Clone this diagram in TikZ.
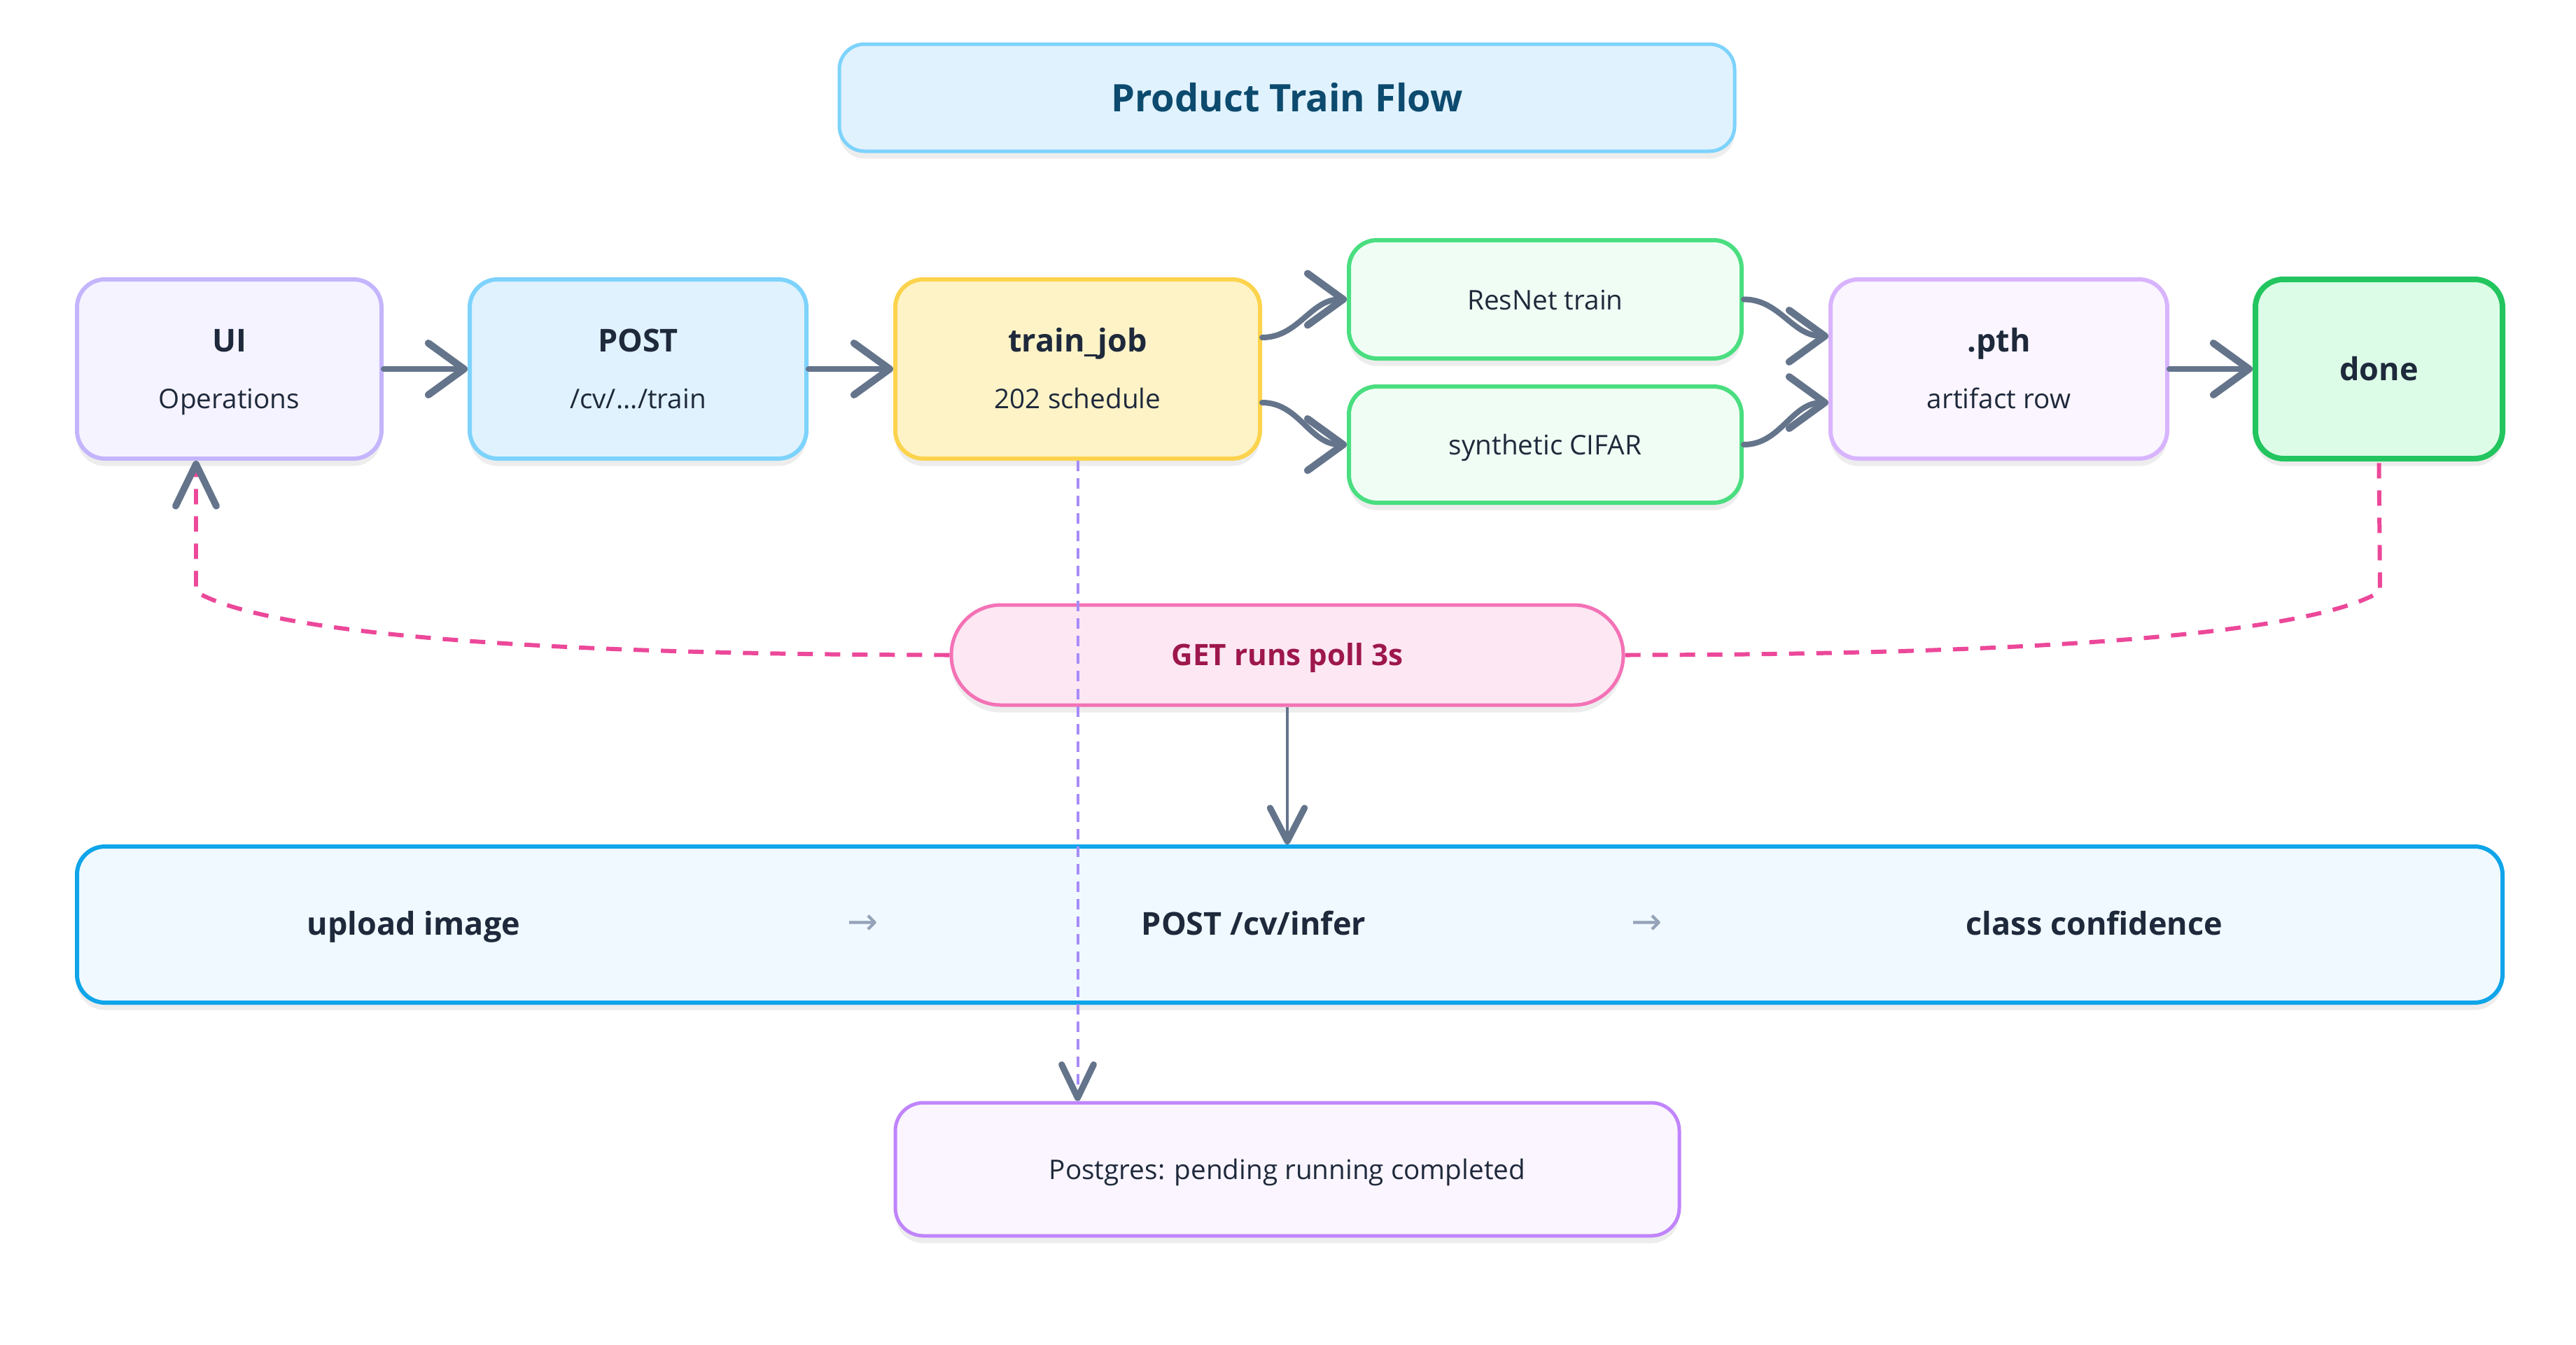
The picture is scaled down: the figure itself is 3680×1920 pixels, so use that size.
\documentclass[tikz,border=0pt]{standalone}
\usepackage{fontspec}
\setmainfont{Open Sans}
\newfontfamily\symfont{DejaVu Sans}
\usetikzlibrary{arrows.meta,shadows,calc}
\newdimen\pxu \pxu=0.01cm
\definecolor{ink}{HTML}{1E293B}
\definecolor{slate}{HTML}{64748B}
\definecolor{lslate}{HTML}{94A3B8}
\definecolor{skyF}{HTML}{E0F2FE}
\definecolor{skyB}{HTML}{7DD3FC}
\definecolor{skyT}{HTML}{0C4A6E}
\definecolor{violF}{HTML}{F5F3FF}
\definecolor{violB}{HTML}{C4B5FD}
\definecolor{ambF}{HTML}{FEF3C7}
\definecolor{ambB}{HTML}{FCD34D}
\definecolor{grnF}{HTML}{F0FDF4}
\definecolor{grnB}{HTML}{4ADE80}
\definecolor{purF}{HTML}{FAF5FF}
\definecolor{purB}{HTML}{D8B4FE}
\definecolor{doneF}{HTML}{DCFCE7}
\definecolor{doneB}{HTML}{22C55E}
\definecolor{pinkF}{HTML}{FCE7F3}
\definecolor{pinkB}{HTML}{F472B6}
\definecolor{pinkT}{HTML}{9D174D}
\definecolor{pinkL}{HTML}{EC4899}
\definecolor{bandF}{HTML}{F0F9FF}
\definecolor{bandB}{HTML}{0EA5E9}
\definecolor{pgB}{HTML}{C084FC}
\definecolor{lavL}{HTML}{A78BFA}
\begin{document}
\begin{tikzpicture}[x=0.01cm,y=-0.01cm,
  box/.style={draw, rounded corners=40\pxu, line width=6\pxu, inner sep=0pt,
    drop shadow={shadow xshift=0pt, shadow yshift=-3pt, opacity=0.07, fill=black}},
  hd/.style={inner sep=0pt, text height=11pt, text depth=1.86pt,
    font=\fontsize{12.8pt}{14pt}\selectfont\bfseries, text=ink},
  sub/.style={inner sep=0pt, text height=9.5pt, text depth=1.65pt,
    font=\fontsize{11pt}{13pt}\selectfont, text=ink},
  flow/.style={draw=slate, line width=2.28pt, line cap=round,
    -{Straight Barb[length=14.5pt, width=21pt, round, line width=2.9pt]}},
  thinarr/.style={draw=slate, line width=1.14pt,
    -{Straight Barb[length=13.5pt, width=14pt, round, line width=2.6pt]}},
  poll/.style={draw=pinkL, line width=1.7pt, dash pattern=on 6.26pt off 4.84pt}
]
\fill[white] (0,0) rectangle (3680,1920);
\useasboundingbox (0,0) rectangle (3680,1920);

% title
\node[box, draw=skyB, fill=skyF, line width=5\pxu, rounded corners=36\pxu,
  minimum width=1279\pxu, minimum height=153\pxu] (title) at (1838.5,139.5) {};
\node[inner sep=0pt, text height=13pt, text depth=2pt,
  font=\fontsize{15.4pt}{17pt}\selectfont\bfseries, text=skyT] (titleT) at ($(title.center)+(0,1)$) {Product Train Flow};

% main row
\node[box, draw=violB, fill=violF, minimum width=435\pxu, minimum height=256\pxu] (ui) at (327.5,527) {};
\node[hd] (uiT) at ($(ui.center)+(0,-41)$) {UI};
\node[sub] (uiS) at ($(ui.center)+(0,43)$) {Operations};

\node[box, draw=skyB, fill=skyF, minimum width=481\pxu, minimum height=256\pxu] (post) at (911.5,527) {};
\node[hd] (postT) at ($(post.center)+(0,-41)$) {POST};
\node[sub] (postS) at ($(post.center)+(0,43)$) {/cv/.../train};

\node[box, draw=ambB, fill=ambF, minimum width=521\pxu, minimum height=256\pxu] (tj) at (1539.5,527) {};
\node[hd] (tjT) at ($(tj.center)+(0,-41)$) {train\_job};
\node[sub] (tjS) at ($(tj.center)+(0,43)$) {202 schedule};

\node[box, draw=grnB, fill=grnF, minimum width=561\pxu, minimum height=169\pxu] (rn) at (2207.5,427.5) {};
\node[sub] (rnT) at ($(rn.center)+(0,1)$) {ResNet train};

\node[box, draw=grnB, fill=grnF, minimum width=561\pxu, minimum height=166\pxu] (sc) at (2207.5,635) {};
\node[sub] (scT) at ($(sc.center)+(0,1)$) {synthetic CIFAR};

\node[box, draw=purB, fill=purF, minimum width=481\pxu, minimum height=256\pxu] (pth) at (2855.5,527) {};
\node[hd] (pthT) at ($(pth.center)+(0,-41)$) {.pth};
\node[sub] (pthS) at ($(pth.center)+(0,43)$) {artifact row};

\node[box, draw=doneB, fill=doneF, line width=8\pxu, minimum width=353\pxu, minimum height=256\pxu] (done) at (3398.5,527) {};
\node[hd] (doneT) at (done.center) {done};

% poll pill
\node[box, draw=pinkB, fill=pinkF, line width=5\pxu, rounded corners=71\pxu,
  minimum width=960\pxu, minimum height=143\pxu] (get) at (1839,935.5) {};
\node[inner sep=0pt, text height=10.5pt, text depth=1.93pt,
  font=\fontsize{12pt}{14pt}\selectfont\bfseries, text=pinkT] (getT) at (get.center) {GET runs poll 3s};

% inference band
\node[box, draw=bandB, fill=bandF, line width=6\pxu, minimum width=3465\pxu, minimum height=223\pxu] (band) at (1842.5,1320.5) {};
\node[hd] (b1) at (591,1319) {upload image};
\node[font=\symfont\fontsize{15pt}{17pt}\selectfont, text=lslate, inner sep=0pt] (a1) at (1233,1321) {→};
\node[hd] (b2) at (1791,1319) {POST /cv/infer};
\node[font=\symfont\fontsize{15pt}{17pt}\selectfont, text=lslate, inner sep=0pt] (a2) at (2353,1321) {→};
\node[hd] (b3) at (2992,1319) {class confidence};

% postgres
\node[box, draw=pgB, fill=purF, line width=5\pxu, minimum width=1120\pxu, minimum height=190\pxu] (pg) at (1839,1670) {};
\node[sub] (pgT) at ($(pg.center)+(0,1)$) {Postgres: pending running completed};

% flow arrows
\draw[flow] (ui.east) -- (post.west);
\draw[flow] (post.east) -- (tj.west);
\draw[flow] ($(tj.east)+(0,-45)$) to[out=0,in=180] (rn.west);
\draw[flow] ($(tj.east)+(0,48)$) to[out=0,in=180] (sc.west);
\draw[flow] (rn.east) to[out=0,in=180] ($(pth.west)+(0,-47)$);
\draw[flow] (sc.east) to[out=0,in=180] ($(pth.west)+(0,48)$);
\draw[flow] (pth.east) -- (done.west);

% poll links
\coordinate (uiB) at (ui.south -| 280,0);
\draw[poll, -{Straight Barb[length=17pt, width=16.5pt, round, color=slate, line width=2.8pt]}]
  (get.west) .. controls (760,935) and (380,905) .. (280,845) -- (uiB);
\draw[poll] (get.east) .. controls (2920,935) and (3300,905) .. (3400,845) -- (done.south);

% get -> band
\draw[thinarr] (get.south) -- (get.south |- band.north);

% train_job -> postgres
\draw[draw=lavL, line width=1.14pt, dash pattern=on 4.27pt off 2.85pt,
  -{Straight Barb[length=13.5pt, width=13pt, round, color=slate, line width=2.6pt]}]
  (tj.south) -- (tj.south |- pg.north);
\end{tikzpicture}
\end{document}
